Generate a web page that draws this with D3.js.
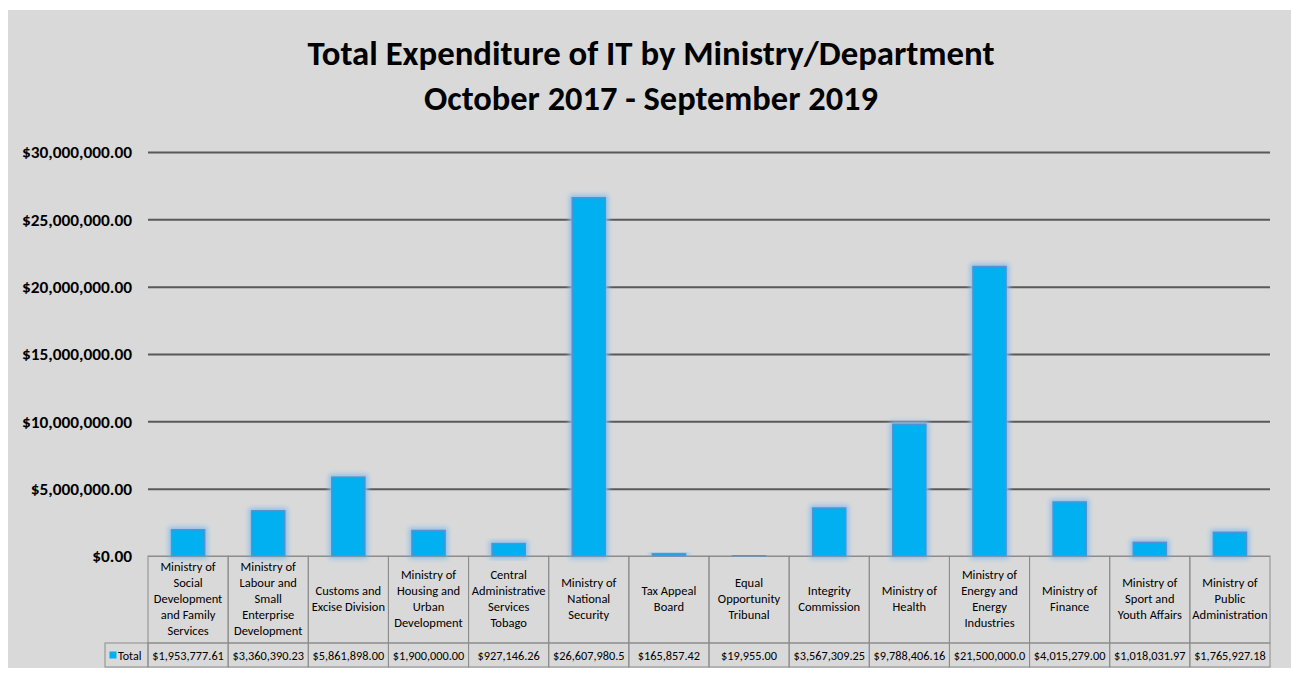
<!DOCTYPE html>
<html><head><meta charset="utf-8">
<script src="https://cdn.jsdelivr.net/npm/d3@7"></script>
<style>
body{margin:0;background:#fff}
svg{display:block}
text{font-family:Carlito,Calibri,Lato,"Open Sans",sans-serif}
</style></head>
<body>
<svg id="c" width="1291" height="673"></svg>
<script>
const titleLines = ["Total Expenditure of IT by Ministry/Department", "October 2017 - September 2019"];
const categories = [
  "Ministry of\nSocial\nDevelopment\nand Family\nServices",
  "Ministry of\nLabour and\nSmall\nEnterprise\nDevelopment",
  "Customs and\nExcise Division",
  "Ministry of\nHousing and\nUrban\nDevelopment",
  "Central\nAdministrative\nServices\nTobago",
  "Ministry of\nNational\nSecurity",
  "Tax Appeal\nBoard",
  "Equal\nOpportunity\nTribunal",
  "Integrity\nCommission",
  "Ministry of\nHealth",
  "Ministry of\nEnergy and\nEnergy\nIndustries",
  "Ministry of\nFinance",
  "Ministry of\nSport and\nYouth Affairs",
  "Ministry of\nPublic\nAdministration"
];
const values = [1953777.61, 3360390.23, 5861898.00, 1900000.00, 927146.26, 26607980.5, 165857.42, 19955.00, 3567309.25, 9788406.16, 21500000.0, 4015279.00, 1018031.97, 1765927.18];
const valueLabels = ["$1,953,777.61","$3,360,390.23","$5,861,898.00","$1,900,000.00","$927,146.26","$26,607,980.5","$165,857.42","$19,955.00","$3,567,309.25","$9,788,406.16","$21,500,000.0","$4,015,279.00","$1,018,031.97","$1,765,927.18"];
const seriesName = "Total";
const yTicks = [0, 5000000, 10000000, 15000000, 20000000, 25000000, 30000000];

const svg = d3.select("#c");
svg.append("rect").attr("x", 8).attr("y", 10).attr("width", 1283).attr("height", 658).attr("fill", "#d9d9d9");

const L = 148, R = 1270, T = 152, B = 556;
const x = d3.scaleBand().domain(categories).range([L, R]).paddingInner(0).paddingOuter(0);
const y = d3.scaleLinear().domain([0, 30000000]).range([B, T]);

// defs: glow
const defs = svg.append("defs");
const f = defs.append("filter").attr("id", "glow").attr("x", "-40%").attr("y", "-40%").attr("width", "180%").attr("height", "180%");
f.append("feMorphology").attr("in", "SourceAlpha").attr("operator", "dilate").attr("radius", 2).attr("result", "d");
f.append("feGaussianBlur").attr("in", "d").attr("stdDeviation", 2.5).attr("result", "b");
f.append("feFlood").attr("flood-color", "#8dbfeb").attr("flood-opacity", 1);
f.append("feComposite").attr("in2", "b").attr("operator", "in").attr("result", "g");
const m = f.append("feMerge");
m.append("feMergeNode").attr("in", "g");
m.append("feMergeNode").attr("in", "SourceGraphic");

// title
titleLines.forEach((t, i) => {
  svg.append("text").attr("x", 651).attr("y", i === 0 ? 65 : 110)
    .attr("text-anchor", "middle").attr("font-size", 34).attr("font-weight", "bold").attr("fill", "#000")
    .attr("textLength", i === 0 ? 687 : 454).attr("lengthAdjust", "spacingAndGlyphs")
    .text(t);
});

// y axis with gridlines
const ax = svg.append("g").attr("transform", `translate(${L},0)`)
  .call(d3.axisLeft(y).tickValues(yTicks).tickFormat(d => "$" + d3.format(",.2f")(d))
    .tickSize(-(R - L)).tickPadding(16));
ax.select(".domain").remove();
ax.selectAll(".tick line").attr("stroke", d => d === 0 ? "#8c8c8c" : "#595959").attr("stroke-width", d => d === 0 ? 1 : 2);
const tt = ax.selectAll(".tick text").attr("font-size", 16.5).attr("font-weight", "bold").attr("fill", "#000")
  .attr("font-family", "Carlito,Calibri,Lato,sans-serif").attr("dy", "0.35em");
let maxW = 0;
tt.each(function () { maxW = Math.max(maxW, this.getComputedTextLength()); });
const k = 110 / maxW;
tt.each(function () {
  const w = this.getComputedTextLength();
  d3.select(this).attr("textLength", w * k).attr("lengthAdjust", "spacingAndGlyphs");
});

// bars
const bw = x.bandwidth() * 0.415;
svg.append("g").selectAll("rect").data(categories).join("rect")
  .attr("x", d => x(d) + (x.bandwidth() - bw) / 2)
  .attr("y", (d, i) => y(values[i]))
  .attr("width", bw)
  .attr("height", (d, i) => y(0) - y(values[i]))
  .attr("fill", "#00b0f0")
  .attr("stroke", "#5592cf").attr("stroke-width", 1.4)
  .attr("filter", "url(#glow)");

// data table
const hTop = B, hBot = 643, vBot = 667, legL = 105;
const tg = svg.append("g");
const cells = tg.selectAll("g.cell").data(categories).join("g").attr("class", "cell");
cells.append("rect").attr("x", d => x(d)).attr("y", hTop).attr("width", x.bandwidth()).attr("height", hBot - hTop)
  .attr("fill", "none").attr("stroke", "#8c8c8c").attr("stroke-width", 1);
cells.append("rect").attr("x", d => x(d)).attr("y", hBot).attr("width", x.bandwidth()).attr("height", vBot - hBot)
  .attr("fill", "none").attr("stroke", "#8c8c8c").attr("stroke-width", 1);
cells.each(function (d, i) {
  const g = d3.select(this);
  const lines = d.split("\n");
  const lh = 15.8, cy = 603;
  const t = g.append("text").attr("text-anchor", "middle").attr("font-size", 12.5).attr("fill", "#000");
  lines.forEach((ln, k) => {
    t.append("tspan").attr("x", x(d) + x.bandwidth() / 2).attr("y", cy - (lines.length - 1) * lh / 2 + k * lh).text(ln);
  });
  g.append("text").attr("x", x(d) + x.bandwidth() / 2).attr("y", 659.5).attr("text-anchor", "middle")
    .attr("font-size", 12.3).attr("fill", "#000").text(valueLabels[i]);
});
tg.append("rect").attr("x", legL).attr("y", hBot).attr("width", L - legL).attr("height", vBot - hBot)
  .attr("fill", "none").attr("stroke", "#8c8c8c").attr("stroke-width", 1);
tg.append("rect").attr("x", 109.5).attr("y", 651.5).attr("width", 7).attr("height", 7).attr("fill", "#00b0f0");
tg.append("text").attr("x", 118).attr("y", 659.5).attr("font-size", 12).attr("fill", "#000").text(seriesName);
</script>
</body></html>
